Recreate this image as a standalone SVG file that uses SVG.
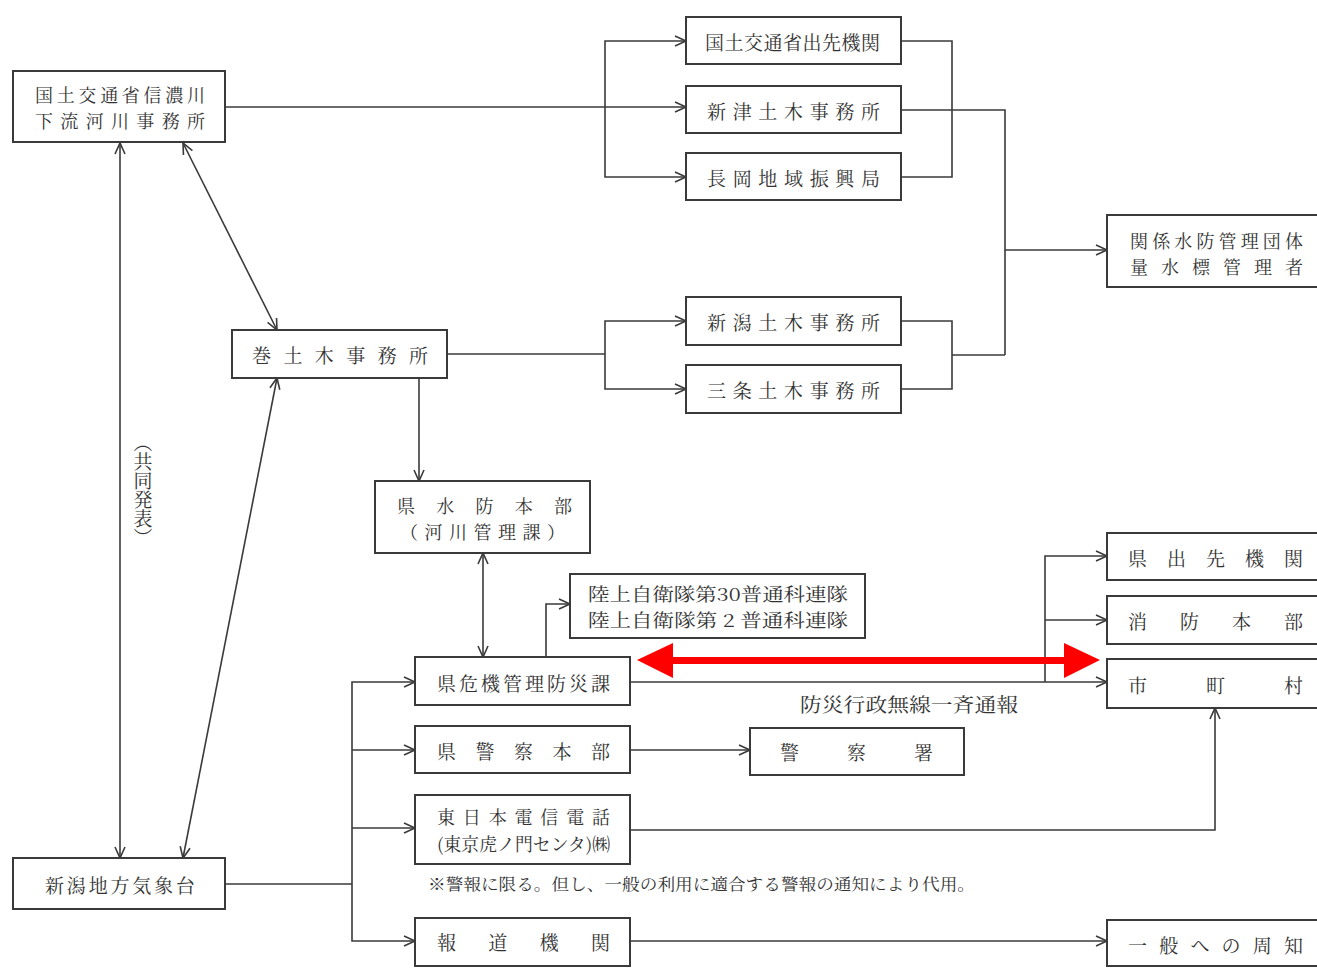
<svg xmlns="http://www.w3.org/2000/svg" width="1317" height="968" viewBox="0 0 1317 968">
<style>
.box{fill:#fff;stroke:#3a3a3a;stroke-width:2}
.t{font-family:"Noto Serif CJK JP","Noto Sans CJK JP",serif;font-size:19px;fill:#333;dominant-baseline:central}
.t2{font-size:18px}
.s{font-size:16px}
.c{fill:none;stroke:#3a3a3a;stroke-width:1.6}
</style>
<defs>
<marker id="ah" markerUnits="userSpaceOnUse" markerWidth="14" markerHeight="12" refX="12" refY="6" orient="auto-start-reverse">
<path d="M1,1 L12,6 L1,11" fill="none" stroke="#3a3a3a" stroke-width="1.6"/>
</marker>
</defs>
<rect width="1317" height="968" fill="#fff"/>
<g id="connectors">
<path class="c" d="M225,107 H686" marker-end="url(#ah)"/>
<path class="c" d="M686,41 H605 V177 H686" marker-start="url(#ah)" marker-end="url(#ah)"/>
<path class="c" d="M901,41 H952 V177 H901"/>
<path class="c" d="M901,110 H1005 V355"/>
<path class="c" d="M901,321 H952 V389 H901"/>
<path class="c" d="M952,355 H1005"/>
<path class="c" d="M1005,250 H1107" marker-end="url(#ah)"/>
<path class="c" d="M183,143 L277,330" marker-start="url(#ah)" marker-end="url(#ah)"/>
<path class="c" d="M120,143 V858" marker-start="url(#ah)" marker-end="url(#ah)"/>
<path class="c" d="M277,378 L183,858" marker-start="url(#ah)" marker-end="url(#ah)"/>
<path class="c" d="M447,354 H605"/>
<path class="c" d="M686,321 H605 V389 H686" marker-start="url(#ah)" marker-end="url(#ah)"/>
<path class="c" d="M419,378 V481" marker-end="url(#ah)"/>
<path class="c" d="M483,553 V657" marker-start="url(#ah)" marker-end="url(#ah)"/>
<path class="c" d="M546,657 V604 H570" marker-end="url(#ah)"/>
<path class="c" d="M630,682 H1107" marker-end="url(#ah)"/>
<path class="c" d="M1107,556 H1045 V682" marker-start="url(#ah)"/>
<path class="c" d="M1045,620 H1107" marker-end="url(#ah)"/>
<path class="c" d="M630,750 H750" marker-end="url(#ah)"/>
<path class="c" d="M630,830 H1215 V708" marker-end="url(#ah)"/>
<path class="c" d="M225,884 H352"/>
<path class="c" d="M415,682 H352 V941 H415" marker-start="url(#ah)" marker-end="url(#ah)"/>
<path class="c" d="M352,750 H415" marker-end="url(#ah)"/>
<path class="c" d="M352,828 H415" marker-end="url(#ah)"/>
<path class="c" d="M630,941 H1107" marker-end="url(#ah)"/>
<g id="red-arrow" fill="#f00">
<rect x="668" y="657" width="400" height="7"/>
<polygon points="637,660 673,643 673,678"/>
<polygon points="1100,660 1064,643 1064,678"/>
</g>
</g>
<g id="labels">
<text class="t" x="800" y="703" textLength="218" lengthAdjust="spacingAndGlyphs">防災行政無線一斉通報</text>
<text class="t s" x="428" y="883" textLength="547" lengthAdjust="spacingAndGlyphs">※警報に限る。但し、一般の利用に適合する警報の通知により代用。</text>
<text class="t" x="143" y="490" text-anchor="middle" style="writing-mode:vertical-rl;dominant-baseline:auto" font-size="19">（共同発表）</text>
</g>
<g id="nA"><rect class="box" x="13" y="71" width="212" height="71"/>
<text class="t t2" x="35" y="94" textLength="170" lengthAdjust="spacing">国土交通省信濃川</text>
<text class="t t2" x="35" y="120" textLength="170" lengthAdjust="spacing">下流河川事務所</text></g>
<g id="nB1"><rect class="box" x="686" y="17" width="215" height="47"/>
<text class="t" x="705" y="41" textLength="175" lengthAdjust="spacing">国土交通省出先機関</text></g>
<g id="nB2"><rect class="box" x="686" y="86" width="215" height="47"/>
<text class="t" x="707" y="110" textLength="173" lengthAdjust="spacing">新津土木事務所</text></g>
<g id="nB3"><rect class="box" x="686" y="153" width="215" height="47"/>
<text class="t" x="707" y="177" textLength="173" lengthAdjust="spacing">長岡地域振興局</text></g>
<g id="nC"><rect class="box" x="1107" y="215" width="215" height="72"/>
<text class="t t2" x="1130" y="240" textLength="173" lengthAdjust="spacing">関係水防管理団体</text>
<text class="t t2" x="1130" y="266" textLength="173" lengthAdjust="spacing">量水標管理者</text></g>
<g id="nD"><rect class="box" x="232" y="330" width="215" height="48"/>
<text class="t" x="252" y="354" textLength="176" lengthAdjust="spacing">巻土木事務所</text></g>
<g id="nE1"><rect class="box" x="686" y="297" width="215" height="48"/>
<text class="t" x="707" y="321" textLength="173" lengthAdjust="spacing">新潟土木事務所</text></g>
<g id="nE2"><rect class="box" x="686" y="365" width="215" height="48"/>
<text class="t" x="707" y="389" textLength="173" lengthAdjust="spacing">三条土木事務所</text></g>
<g id="nF"><rect class="box" x="375" y="481" width="215" height="72"/>
<text class="t t2" x="397" y="505" textLength="175" lengthAdjust="spacing">県水防本部</text>
<text class="t t2" x="400" y="531" textLength="165" lengthAdjust="spacing">（河川管理課）</text></g>
<g id="nG"><rect class="box" x="570" y="574" width="295" height="64"/>
<text class="t t2" x="588" y="593" textLength="260" lengthAdjust="spacingAndGlyphs">陸上自衛隊第30普通科連隊</text>
<text class="t t2" x="588" y="619" textLength="260" lengthAdjust="spacingAndGlyphs">陸上自衛隊第 2 普通科連隊</text></g>
<g id="nH"><rect class="box" x="415" y="657" width="215" height="48"/>
<text class="t" x="437" y="682" textLength="173" lengthAdjust="spacing">県危機管理防災課</text></g>
<g id="nI"><rect class="box" x="415" y="726" width="215" height="47"/>
<text class="t" x="437" y="750" textLength="173" lengthAdjust="spacing">県警察本部</text></g>
<g id="nJ"><rect class="box" x="750" y="728" width="214" height="47"/>
<text class="t" x="780" y="751" textLength="153" lengthAdjust="spacing">警察署</text></g>
<g id="nK"><rect class="box" x="415" y="795" width="215" height="69"/>
<text class="t t2" x="437" y="816" textLength="173" lengthAdjust="spacing">東日本電信電話</text>
<text class="t t2" x="437" y="843" textLength="173" lengthAdjust="spacingAndGlyphs">(東京虎ノ門センタ)㈱</text></g>
<g id="nL"><rect class="box" x="415" y="918" width="215" height="48"/>
<text class="t" x="437" y="941" textLength="173" lengthAdjust="spacing">報道機関</text></g>
<g id="nM"><rect class="box" x="13" y="858" width="212" height="51"/>
<text class="t" x="45" y="884" textLength="150" lengthAdjust="spacing">新潟地方気象台</text></g>
<g id="nN1"><rect class="box" x="1107" y="533" width="215" height="47"/>
<text class="t" x="1128" y="557" textLength="175" lengthAdjust="spacing">県出先機関</text></g>
<g id="nN2"><rect class="box" x="1107" y="596" width="215" height="48"/>
<text class="t" x="1128" y="620" textLength="175" lengthAdjust="spacing">消防本部</text></g>
<g id="nN3"><rect class="box" x="1107" y="659" width="215" height="49"/>
<text class="t" x="1128" y="684" textLength="175" lengthAdjust="spacing">市町村</text></g>
<g id="nO"><rect class="box" x="1107" y="920" width="215" height="46"/>
<text class="t" x="1128" y="944" textLength="175" lengthAdjust="spacing">一般への周知</text></g>
</svg>
